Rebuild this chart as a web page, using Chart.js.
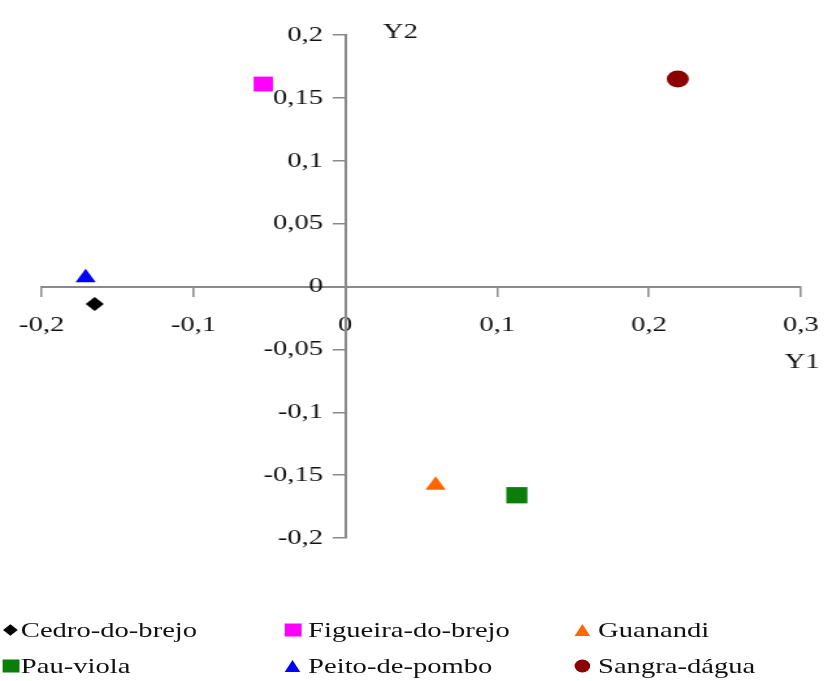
<!DOCTYPE html>
<html>
<head>
<meta charset="utf-8">
<script src="https://cdn.jsdelivr.net/npm/chart.js@4/dist/chart.umd.min.js"></script>
<style>
  html, body { margin: 0; padding: 0; background: #fff; }
  /* the reference is stretched sideways, so the whole figure is drawn narrow and widened */
  #wrap { position: relative; width: 636px; height: 681px; transform: scaleX(1.3); transform-origin: 0 0; }
  #plot { position: absolute; left: 0; top: 0; width: 636px; height: 560px; }
  #legend { position: absolute; left: 0; top: 0; width: 636px; height: 681px;
            font-family: "Liberation Serif", "Times New Roman", serif; font-size: 22px; color: #111; }
  .item { position: absolute; height: 24px; line-height: 24px; white-space: nowrap; transform: translateY(-50%); }
  .mk { position: absolute; left: 0; top: 50%; transform: translate(0, -50%); }
  .txt { position: absolute; top: 0; }
</style>
</head>
<body>
<div id="wrap">
  <div id="plot"><canvas id="chart"></canvas></div>
  <div id="legend"></div>
</div>
<script>
// Dados
const seriesNames = ['Cedro-do-brejo', 'Figueira-do-brejo', 'Guanandi', 'Pau-viola', 'Peito-de-pombo', 'Sangra-dágua'];
const y1Values = [-0.165, -0.054, 0.0595, 0.113, -0.171, 0.219];
const y2Values = [-0.014, 0.161, -0.158, -0.166, 0.007, 0.165];
const xTickValues = [-0.2, -0.1, 0, 0.1, 0.2, 0.3];
const yTickValues = [-0.2, -0.15, -0.1, -0.05, 0, 0.05, 0.1, 0.15, 0.2];

const colors = ['#000000', '#ff00ff', '#ff6600', '#0a7d0a', '#0000ff', '#8b0000'];
const markers = ['rectRot', 'rect', 'triangle', 'rect', 'triangle', 'circle'];
const radii = [7, 10.5, 9, 11.5, 9, 8.5];

const fmt = v => v === 0 ? '0' : String(v).replace('.', ',');

Chart.defaults.font.family = '"Liberation Serif", "Times New Roman", serif';
Chart.defaults.font.size = 22;
Chart.defaults.color = '#111';

// Rótulos do eixo Y ficam colados no eixo quando ele é centrado: afasta-os para a esquerda
const yLabelGap = {
  id: 'yLabelGap',
  beforeDraw(chart) {
    const items = chart.scales.y.getLabelItems(chart.chartArea);
    if (items._shifted) return;
    items.forEach(it => { it.options.translation[0] -= 17; });
    items._shifted = true;
  }
};

// Títulos Y1 / Y2 junto aos eixos
const axisTitles = {
  id: 'axisTitles',
  afterDraw(chart) {
    const { ctx, scales: { x, y } } = chart;
    ctx.save();
    ctx.font = '22px "Liberation Serif", serif';
    ctx.fillStyle = '#111';
    ctx.textBaseline = 'middle';
    ctx.textAlign = 'left';
    ctx.fillText('Y2', x.getPixelForValue(0) + 29, y.top - 3);
    ctx.textAlign = 'center';
    ctx.fillText('Y1', x.right + 1, y.getPixelForValue(0) + 76);
    ctx.restore();
  }
};

const datasets = seriesNames.map((name, i) => ({
  label: name,
  data: [{ x: y1Values[i], y: y2Values[i] }],
  pointStyle: markers[i],
  pointRadius: radii[i],
  backgroundColor: colors[i],
  borderColor: colors[i],
  borderWidth: 0
}));

const axisStyle = {
  border: { display: true, color: '#8a8a8a', width: 2 },
  grid: { display: true, drawOnChartArea: false, drawTicks: true, tickLength: 9, color: '#8a8a8a', lineWidth: 1.5 }
};

new Chart(document.getElementById('chart'), {
  type: 'scatter',
  data: { datasets },
  plugins: [yLabelGap, axisTitles],
  options: {
    responsive: true,
    maintainAspectRatio: false,
    animation: false,
    layout: { padding: { left: 32, right: 20, top: 35, bottom: 22 } },
    plugins: { legend: { display: false }, tooltip: { enabled: false } },
    scales: {
      x: {
        type: 'linear',
        min: -0.2, max: 0.3,
        position: { y: 0 },
        ...axisStyle,
        afterBuildTicks: s => { s.ticks = xTickValues.map(v => ({ value: v })); },
        afterFit: s => { s.height = 0; s.paddingLeft = 0; s.paddingRight = 0; },
        ticks: { padding: 17, autoSkip: false, maxRotation: 0, callback: v => fmt(v) }
      },
      y: {
        type: 'linear',
        min: -0.2, max: 0.2,
        position: { x: 0 },
        ...axisStyle,
        afterBuildTicks: s => { s.ticks = yTickValues.map(v => ({ value: v })); },
        afterFit: s => { s.width = 0; s.paddingTop = 0; s.paddingBottom = 0; },
        ticks: { autoSkip: false, callback: v => fmt(v) }
      }
    }
  }
});

// Legenda em HTML (3 colunas, 2 linhas)
const legendCols = [1.5, 219, 442];
const legendRows = [630, 666];
const legend = document.getElementById('legend');
seriesNames.forEach((name, i) => {
  const item = document.createElement('div');
  item.className = 'item';
  item.style.left = legendCols[i % 3] + 'px';
  item.style.top = legendRows[Math.floor(i / 3)] + 'px';
  const mk = document.createElement('span');
  mk.className = 'mk';
  const c = colors[i];
  if (markers[i] === 'rectRot') {
    mk.style.cssText += `width:8px;height:8px;background:${c};transform:translate(2px,-50%) rotate(45deg);`;
  } else if (markers[i] === 'rect') {
    mk.style.cssText += `width:13px;height:13px;background:${c};`;
  } else if (markers[i] === 'triangle') {
    mk.style.cssText += `width:0;height:0;border-left:6.5px solid transparent;border-right:6.5px solid transparent;border-bottom:12px solid ${c};`;
  } else {
    mk.style.cssText += `width:12px;height:13px;border-radius:50%;background:${c};`;
  }
  const txt = document.createElement('span');
  txt.className = 'txt';
  txt.style.left = (i % 3 === 0 ? 14.5 : 18) + 'px';
  txt.textContent = name;
  item.appendChild(mk);
  item.appendChild(txt);
  legend.appendChild(item);
});
</script>
</body>
</html>
